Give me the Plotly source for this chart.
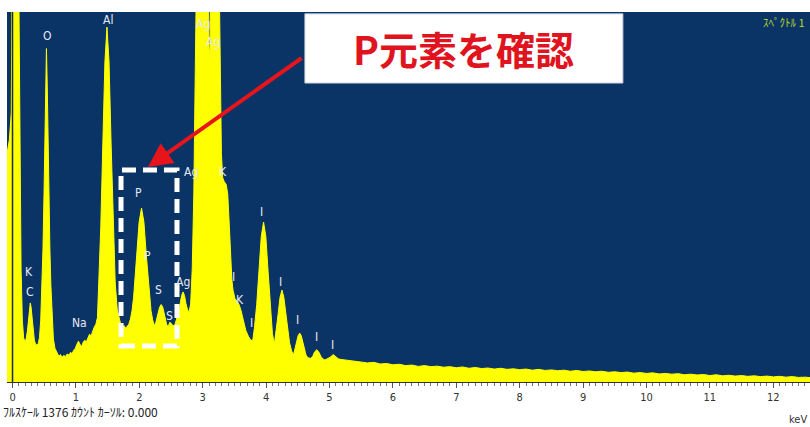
import plotly.graph_objects as go

# EDS spectrum: energy (keV) and counts, full scale 1376 counts
energy_kev = [
    -0.087, -0.05, -0.02, -0.005, 0.095, 0.115, 0.135, 0.155, 0.175, 0.195,
    0.215, 0.235, 0.255, 0.268, 0.28, 0.292, 0.305, 0.325, 0.345, 0.365,
    0.385, 0.405, 0.425, 0.445, 0.465, 0.48, 0.497, 0.51, 0.522, 0.535,
    0.548, 0.56, 0.573, 0.59, 0.605, 0.625, 0.645, 0.67,
    0.70, 0.73, 0.755, 0.78, 0.81, 0.835, 0.86, 0.89, 0.915, 0.94,
    0.965, 0.99, 1.015, 1.04, 1.065, 1.09, 1.115, 1.14, 1.165, 1.19,
    1.215, 1.24, 1.265, 1.29, 1.315, 1.34,
    1.36, 1.3925, 1.425, 1.4575, 1.49, 1.5225, 1.555, 1.5875, 1.62, 1.6525,
    1.685, 1.71, 1.735, 1.76, 1.785, 1.81, 1.835,
    1.86, 1.885, 1.91, 1.96, 1.9975, 2.035, 2.0725, 2.11, 2.16, 2.185,
    2.21, 2.235,
    2.26, 2.295, 2.32, 2.345, 2.37, 2.395, 2.43, 2.455, 2.48, 2.505,
    2.53, 2.56,
    2.60, 2.6225, 2.645, 2.6675, 2.69, 2.7125, 2.735, 2.76, 2.785,
    2.81, 2.835, 2.86, 2.88, 2.90, 2.95, 3.00, 3.05, 3.08, 3.10,
    3.115, 3.13, 3.16, 3.21, 3.25, 3.275, 3.295, 3.315, 3.34, 3.37,
    3.395, 3.42, 3.44, 3.46, 3.48, 3.51, 3.54, 3.57, 3.60, 3.64,
    3.68, 3.72, 3.76, 3.79,
    3.816, 3.852, 3.888, 3.924, 3.96, 3.996, 4.032, 4.068, 4.10, 4.13,
    4.16, 4.19, 4.22, 4.25, 4.28, 4.31, 4.34, 4.37, 4.40,
    4.43, 4.455, 4.48, 4.505, 4.53, 4.555, 4.58, 4.605, 4.63, 4.66,
    4.70, 4.735, 4.765, 4.80, 4.835, 4.865, 4.90, 4.93,
    4.97, 5.01, 5.06, 5.10, 5.14, 5.18,
    5.3, 5.4, 5.5, 5.6, 5.7, 5.8, 5.9, 6.0, 6.1, 6.2,
    6.3, 6.4, 6.5, 6.6, 6.7, 6.8, 6.9, 7.0, 7.1, 7.2,
    7.3, 7.4, 7.5, 7.6, 7.7, 7.8, 7.9, 8.0, 8.1, 8.2,
    8.3, 8.4, 8.5, 8.6, 8.7, 8.8, 8.9, 9.0, 9.1, 9.2,
    9.3, 9.4, 9.5, 9.6, 9.7, 9.8, 9.9, 10.0, 10.1, 10.2,
    10.3, 10.4, 10.5, 10.6, 10.7, 10.8, 10.9, 11.0, 11.1, 11.2,
    11.3, 11.4, 11.5, 11.6, 11.7, 11.8, 11.9, 12.0, 12.1, 12.2,
    12.3, 12.4, 12.5, 12.6,
]

counts = [
    850, 900, 1000, 1600, 1600, 900, 420, 230, 165, 150,
    160, 190, 245, 280, 294, 280, 245, 190, 155, 140,
    138, 142, 165, 230, 360, 490, 700, 900, 1100, 1240,
    1100, 900, 700, 490, 360, 230, 160, 125,
    108, 96, 102, 92, 99, 94, 104, 100, 110, 106,
    118, 125, 140, 152, 140, 132, 148, 155, 150, 168,
    178, 172, 192, 205, 215, 240,
    368, 578, 888, 1190, 1320, 1190, 888, 578, 368, 268,
    230, 212, 205, 210, 200, 207, 215,
    234, 265, 315, 473, 595, 647, 595, 473, 315, 265,
    232, 210,
    221, 253, 278, 288, 278, 253, 215, 205, 222, 218,
    208, 212,
    240, 261, 292, 322, 335, 322, 292, 270, 260,
    290, 420, 700, 1100, 1600, 2800, 3400, 2500, 1700, 1250,
    1200, 1500, 2400, 2200, 1700, 1150, 850, 760, 745, 735,
    700, 580, 450, 380, 340, 310, 300, 290, 270, 225,
    192, 170, 155, 155,
    201, 288, 416, 541, 595, 541, 410, 275, 180, 140,
    189, 253, 315, 342, 315, 253, 189, 146, 118,
    100, 123, 148, 172, 182, 172, 148, 123, 100, 90,
    88, 95, 112, 120, 110, 95, 85, 82,
    86, 92, 102, 94, 86, 84,
    80, 77, 75, 71, 73, 67, 69, 64, 66, 61,
    63, 58, 61, 57, 59, 55, 57, 53, 56, 51,
    54, 50, 52, 48, 51, 47, 49, 46, 48, 44,
    47, 43, 45, 42, 44, 40, 43, 39, 41, 38,
    40, 36, 38, 35, 37, 33, 35, 32, 34, 30,
    32, 29, 31, 27, 29, 26, 28, 24, 27, 23,
    25, 22, 24, 21, 23, 20, 22, 19, 21, 18,
    20, 17, 18, 16,
]

# Element line markers: text, energy (keV), counts
label_text = ["K", "C", "O", "Na", "Al", "P", "P", "S", "S", "Ag", "Ag", "Ag", "Ag",
              "K", "I", "K", "I", "I", "I", "I", "I", "I"]
label_kev = [0.26, 0.276, 0.544, 1.05, 1.506, 1.995, 2.137, 2.31, 2.484, 2.689, 2.815,
             3.005, 3.162, 3.32, 3.478, 3.59, 3.762, 3.935, 4.22, 4.503, 4.80, 5.055]
label_counts = [409, 335, 1287, 219, 1346, 703, 469, 342, 245, 372, 781,
                1331, 1264, 781, 390, 305, 219, 632, 372, 231, 167, 138]

FULL_SCALE = 1376
NAVY = "#0b3466"
YELLOW = "#ffff00"
LABEL_FONT = "Liberation Sans Narrow, DejaVu Sans Condensed, Arial, sans-serif"
JP_FONT = "Noto Sans CJK JP, sans-serif"

fig = go.Figure()
fig.add_trace(go.Scatter(
    x=energy_kev, y=counts, mode="lines",
    line=dict(color=YELLOW, width=1),
    fill="tozeroy", fillcolor=YELLOW, hoverinfo="skip",
))

for t, e, c in zip(label_text, label_kev, label_counts):
    fig.add_annotation(
        x=e, y=c, text=t, showarrow=False,
        xanchor="center", yanchor="middle",
        font=dict(family=LABEL_FONT, size=12, color="#e6e9f2"),
    )

# y axis line at 0 keV
fig.add_shape(type="line", xref="x", yref="paper", x0=0, x1=0, y0=0, y1=1,
              line=dict(color="#1c2b4a", width=1.5))

# dashed box around the phosphorus peaks
fig.add_shape(type="rect", xref="paper", yref="paper",
              x0=0.142, x1=0.2117, y0=0.0973, y1=0.573,
              line=dict(color="white", width=5, dash="14px,7px"))

# callout box
fig.add_shape(type="rect", xref="paper", yref="paper",
              x0=0.371, x1=0.767, y0=0.808, y1=0.995,
              fillcolor="white", line=dict(color="#c8ccd4", width=1))
fig.add_annotation(
    xref="paper", yref="paper", x=0.569, y=0.903, text="<b>P元素を確認</b>",
    showarrow=False, xanchor="center", yanchor="middle",
    font=dict(family=JP_FONT, size=39, color="#e0141e"),
)
# red arrow from callout to the P peak
fig.add_annotation(
    xref="paper", yref="paper", x=0.1756, y=0.581, text="",
    showarrow=True, ax=155, ay=-110, arrowhead=2, arrowsize=1.2,
    arrowwidth=4, arrowcolor="#e8141c", standoff=0,
)

fig.add_annotation(
    xref="paper", yref="paper", x=0.996, y=0.973, text="ｽﾍﾟｸﾄﾙ 1",
    showarrow=False, xanchor="right", yanchor="middle",
    font=dict(family=JP_FONT, size=11, color="#b8d62a"),
)
fig.add_annotation(
    xref="paper", yref="paper", x=-0.0075, y=-0.08, text="ﾌﾙｽｹｰﾙ 1376 ｶｳﾝﾄ ｶｰｿﾙ: 0.000",
    showarrow=False, xanchor="left", yanchor="middle",
    font=dict(family=JP_FONT, size=12, color="#222222"),
)
fig.add_annotation(
    xref="paper", yref="paper", x=0.999, y=-0.1, text="keV",
    showarrow=False, xanchor="right", yanchor="middle",
    font=dict(family=LABEL_FONT, size=11, color="#333333"),
)

fig.update_layout(
    width=810, height=427,
    margin=dict(l=7, r=0, t=12, b=45),
    paper_bgcolor="white", plot_bgcolor=NAVY,
    showlegend=False,
    xaxis=dict(
        range=[-0.087, 12.58], tick0=0, dtick=1,
        ticks="outside", ticklen=5, tickwidth=1, tickcolor="#555555",
        showline=True, linecolor="#333333", linewidth=1,
        showgrid=False, zeroline=False,
        tickfont=dict(family=LABEL_FONT, size=11, color="#333333"),
        minor=dict(dtick=0.1, tick0=0, ticks="outside", ticklen=3,
                   tickcolor="#777777", showgrid=False),
    ),
    yaxis=dict(range=[0, FULL_SCALE], visible=False, showgrid=False, zeroline=False),
)

fig.write_html("out.html")
